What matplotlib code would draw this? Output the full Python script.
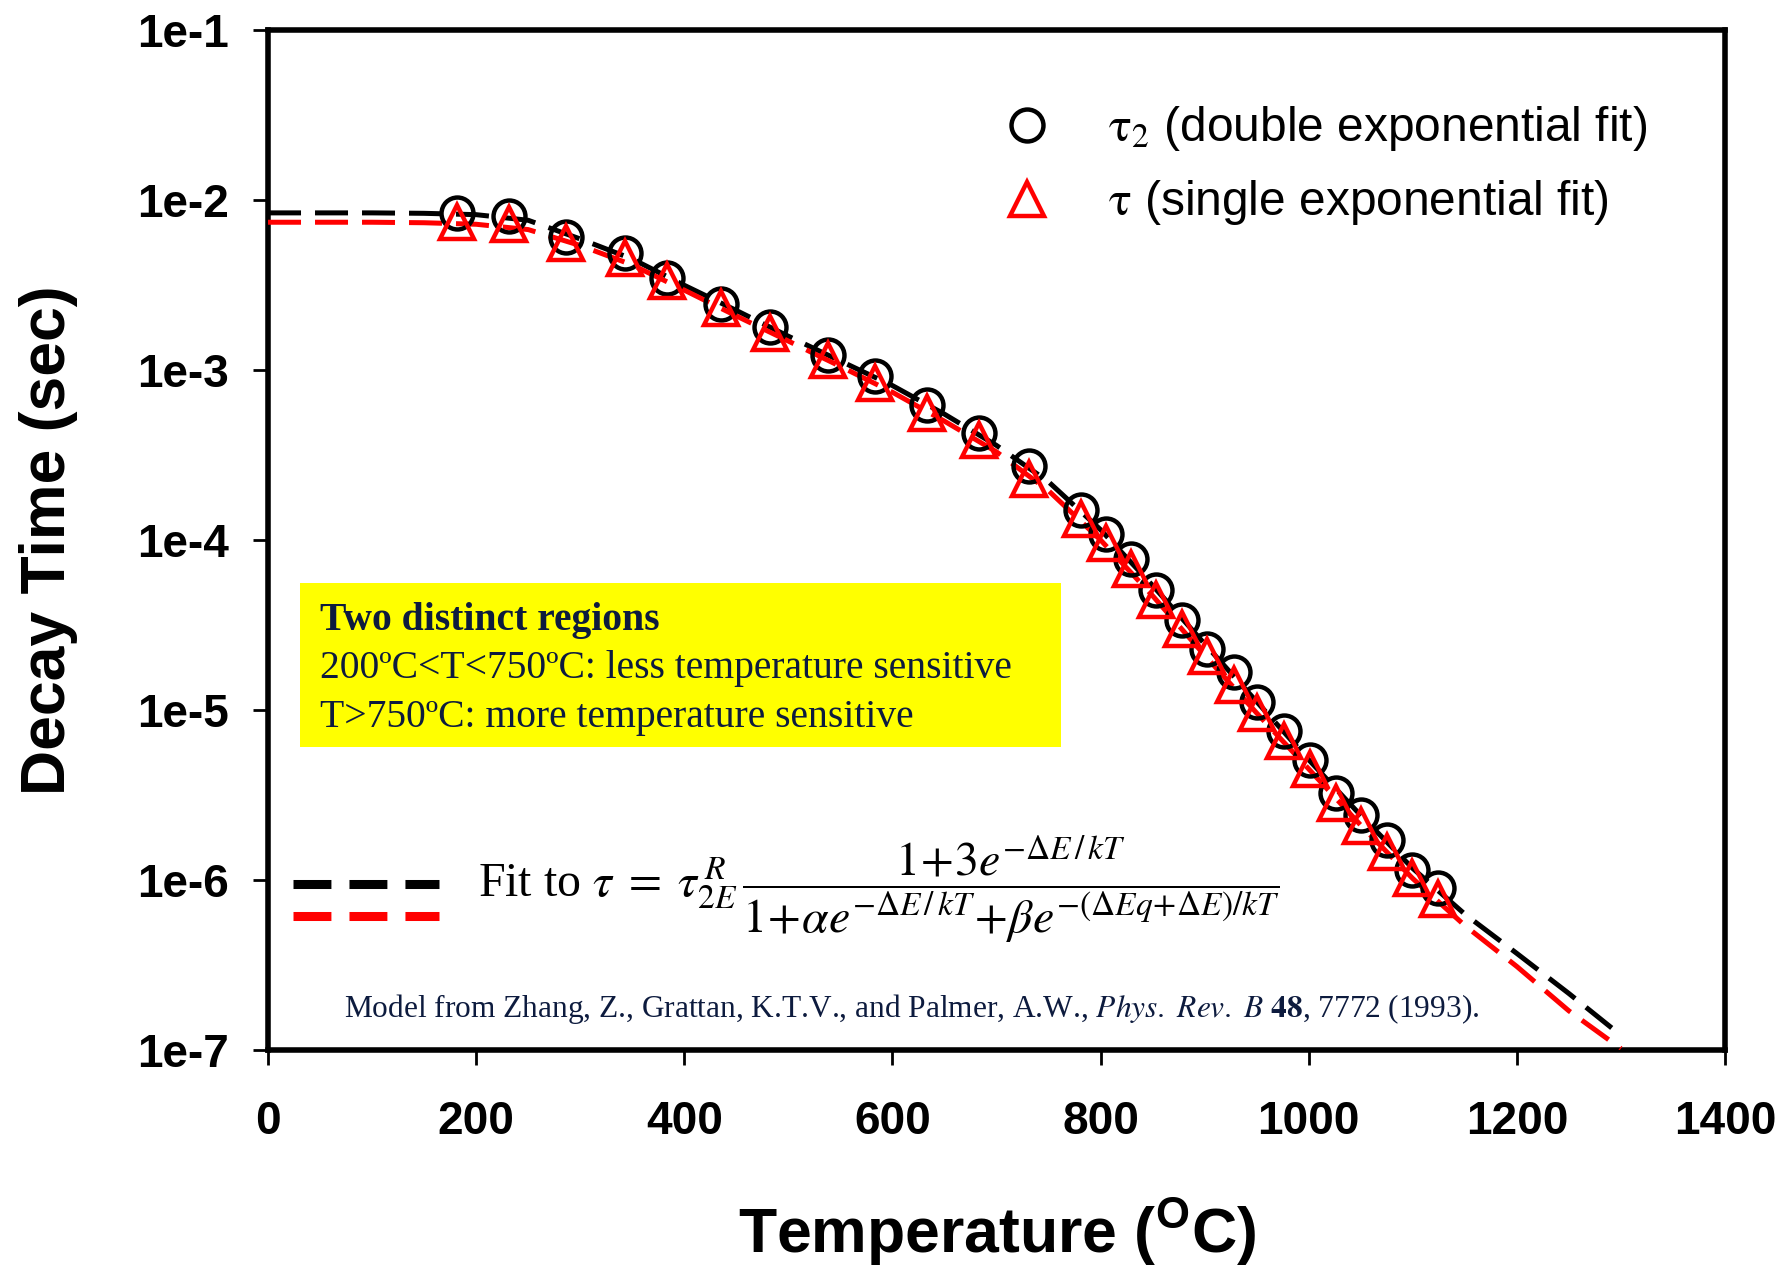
import matplotlib
matplotlib.use("Agg")
import matplotlib.pyplot as plt
from matplotlib.lines import Line2D
from matplotlib.patches import Rectangle
from matplotlib.ticker import FixedLocator, FuncFormatter, NullLocator

plt.rcParams['font.family'] = ['Liberation Sans', 'DejaVu Sans']
plt.rcParams['mathtext.fontset'] = 'custom'
plt.rcParams['mathtext.rm'] = 'Liberation Sans'
plt.rcParams['mathtext.bf'] = 'Liberation Sans:bold'
plt.rcParams['mathtext.it'] = 'Liberation Sans:italic'

# measured points (temperature in C, decay time in s)
temp = [182, 232, 286, 343, 383, 435, 482, 538, 583, 633, 683, 731, 781, 805,
        829, 853, 878, 902, 928, 950, 976, 1001, 1026, 1050, 1075, 1099, 1124]
tau2 = [8.4e-3, 8.0e-3, 6.1e-3, 4.9e-3, 3.5e-3, 2.46e-3, 1.78e-3, 1.23e-3,
        9.2e-4, 6.2e-4, 4.27e-4, 2.73e-4, 1.5e-4, 1.09e-4, 7.76e-5, 5.1e-5,
        3.38e-5, 2.3e-5, 1.67e-5, 1.12e-5, 7.5e-6, 5.1e-6, 3.27e-6, 2.4e-6,
        1.71e-6, 1.15e-6, 9.0e-7]
tau1 = [7.45e-3, 7.2e-3, 5.6e-3, 4.55e-3, 3.35e-3, 2.31e-3, 1.65e-3, 1.14e-3,
        8.4e-4, 5.6e-4, 3.9e-4, 2.27e-4, 1.33e-4, 9.6e-5, 6.75e-5, 4.45e-5,
        2.99e-5, 2.07e-5, 1.41e-5, 9.6e-6, 6.6e-6, 4.5e-6, 2.84e-6, 2.09e-6,
        1.47e-6, 1.03e-6, 7.7e-7]

# model fit curves
temp_fit = [0, 100, 150, 200, 250, 300, 350, 400, 450, 500, 550, 600, 650, 700,
            750, 800, 850, 900, 950, 1000, 1050, 1100, 1150, 1200, 1250, 1300]
fit2 = [8.4e-3, 8.4e-3, 8.35e-3, 8.2e-3, 7.6e-3, 5.9e-3, 4.5e-3, 3.15e-3,
        2.24e-3, 1.58e-3, 1.13e-3, 8.1e-4, 5.5e-4, 3.6e-4, 2.2e-4, 1.15e-4,
        5.4e-5, 2.45e-5, 1.12e-5, 5.1e-6, 2.4e-6, 1.17e-6, 6.3e-7, 3.7e-7,
        2.15e-7, 1.22e-7]
fit1 = [7.4e-3, 7.4e-3, 7.35e-3, 7.2e-3, 6.7e-3, 5.4e-3, 4.15e-3, 2.95e-3,
        2.08e-3, 1.48e-3, 1.05e-3, 7.4e-4, 5.0e-4, 3.3e-4, 1.95e-4, 1.0e-4,
        4.7e-5, 2.1e-5, 9.6e-6, 4.5e-6, 2.1e-6, 1.02e-6, 5.4e-7, 3.1e-7,
        1.7e-7, 1.02e-7]

xticks = [0, 200, 400, 600, 800, 1000, 1200, 1400]
yticks = [1e-7, 1e-6, 1e-5, 1e-4, 1e-3, 1e-2, 1e-1]
ytick_labels = ['1e-7', '1e-6', '1e-5', '1e-4', '1e-3', '1e-2', '1e-1']

navy = '#0d1b3e'

fig = plt.figure(figsize=(17.82, 12.66), dpi=100)
ax = fig.add_axes([0.1504, 0.1706, 0.8176, 0.8057])

ax.plot(temp_fit, fit2, color='black', lw=3.6, dashes=(6.6, 2.8), zorder=3)
ax.plot(temp_fit, fit1, color='red', lw=3.6, dashes=(6.6, 2.8), zorder=3)
ax.plot(temp, tau2, 'o', ms=23, mfc='none', mec='black', mew=3.2, zorder=4,
        label=r'$\mathrm{\tau}_{2}$ (double exponential fit)')
ax.plot(temp, tau1, '^', ms=24, mfc='none', mec='red', mew=3.2, zorder=5,
        label=r'$\mathrm{\tau}$ (single exponential fit)')

ax.set_yscale('log')
ax.set_xlim(0, 1400)
ax.set_ylim(1e-7, 1e-1)
ax.xaxis.set_major_locator(FixedLocator(xticks))
ax.yaxis.set_major_locator(FixedLocator(yticks))
ax.yaxis.set_minor_locator(NullLocator())
ax.yaxis.set_major_formatter(FuncFormatter(lambda v, p: ytick_labels[yticks.index(v)] if v in yticks else ''))
ax.tick_params(axis='both', direction='out', length=11, width=2, labelsize=33)
ax.tick_params(axis='x', pad=25)
ax.tick_params(axis='y', pad=17)
for lab in ax.get_xticklabels() + ax.get_yticklabels():
    lab.set_fontweight('bold')
for s in ax.spines.values():
    s.set_linewidth(4)

ax.set_xlabel(r'Temperature ($^{\mathbf{O}}$C)', fontsize=45, fontweight='bold', labelpad=38)
ax.set_ylabel('Decay Time (sec)', fontsize=45, fontweight='bold', labelpad=43)

# marker legend, top right
leg = ax.legend(loc='upper left', bbox_to_anchor=(0.5045, 0.927), frameon=False,
                fontsize=34.5, numpoints=1, handlelength=1.0, handletextpad=1.2,
                labelspacing=0.52, borderpad=0, borderaxespad=0)
for t in leg.get_texts():
    t.set_math_fontfamily('stix')
ax.add_artist(leg)

# fit line legend next to the model equation
fit_handles = [Line2D([], [], color='black', lw=6.5, dashes=(4.2, 2.0)),
               Line2D([], [], color='red', lw=6.5, dashes=(4.2, 2.0))]
ax.legend(fit_handles, [' ', ' '], loc='upper left', bbox_to_anchor=(0.017, 0.171),
          frameon=False, fontsize=16, handlelength=6.6, labelspacing=0.5,
          borderpad=0, borderaxespad=0, handletextpad=0)

ax.text(0.144, 0.157,
        r'Fit to $\tau\;=\;\tau_{2E}^{\,R}\,\dfrac{1\!+\!3e^{-\Delta E\,/\,kT}}'
        r'{1\!+\!\alpha e^{-\Delta E\,/\,kT}\!+\!\beta e^{-(\Delta Eq\!+\!\Delta E)/kT}}$',
        transform=ax.transAxes, fontsize=34.5, family='Liberation Serif',
        math_fontfamily='stix', va='center', ha='left')

# yellow note box
ax.add_patch(Rectangle((0.022, 0.297), 0.522, 0.161, transform=ax.transAxes,
                       facecolor='#ffff00', edgecolor='none', zorder=2))
ax.text(0.0357, 0.421, 'Two distinct regions', transform=ax.transAxes,
        fontsize=28.5, family='Liberation Serif', fontweight='bold', color=navy,
        va='center', zorder=6)
ax.text(0.0357, 0.374, '200ºC<T<750ºC: less temperature sensitive', transform=ax.transAxes,
        fontsize=28.5, family='Liberation Serif', color=navy, va='center', zorder=6)
ax.text(0.0357, 0.326, 'T>750ºC: more temperature sensitive', transform=ax.transAxes,
        fontsize=28.5, family='Liberation Serif', color=navy, va='center', zorder=6)

ax.text(0.052, 0.040,
        r'Model from Zhang, Z., Grattan, K.T.V., and Palmer, A.W., '
        r'$\mathit{Phys.\ Rev.\ B}$ $\mathbf{48}$, 7772 (1993).',
        transform=ax.transAxes, fontsize=22.6, family='Liberation Serif',
        math_fontfamily='stix', color=navy, va='center')

fig.savefig('out.png', dpi=100)
